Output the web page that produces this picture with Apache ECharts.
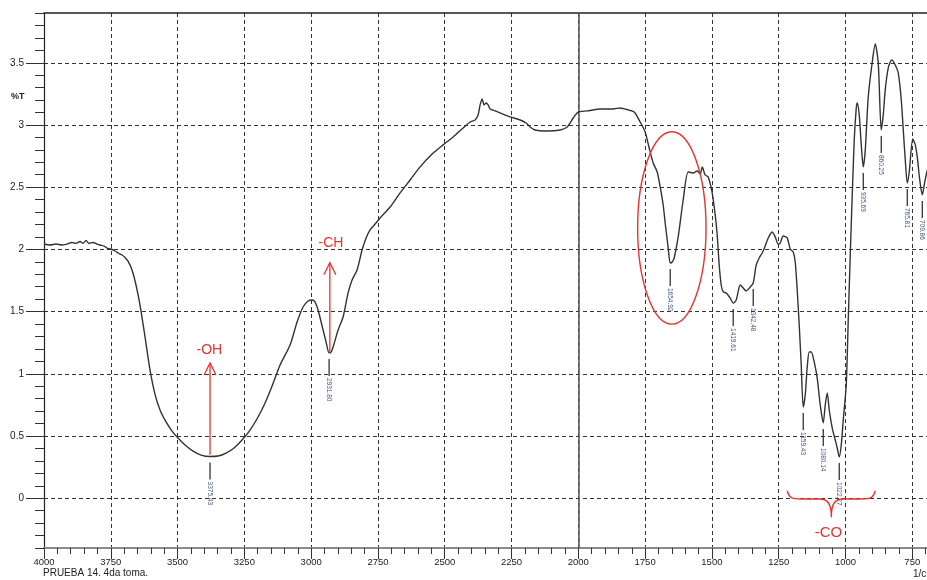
<!DOCTYPE html>
<html>
<head>
<meta charset="utf-8">
<script src="https://cdn.jsdelivr.net/npm/echarts@6/dist/echarts.min.js"></script>
<style>
html,body{margin:0;padding:0;background:#fff;}
#chart{width:927px;height:580px;}
</style>
</head>
<body>
<div id="chart"></div>
<script>
// ---- spectrum data (wavenumber in 1/cm, %T) ----
const wavenumber = [4000, 3977.5, 3955.1, 3932.6, 3913.9, 3895.2, 3880.2, 3865.2, 3854.0, 3842.7, 3831.5, 3816.5, 3801.6, 3790.3, 3775.3, 3764.1, 3749.1, 3734.2, 3722.9, 3707.9, 3696.7, 3685.5, 3670.5, 3655.6, 3640.6, 3621.8, 3603.1, 3584.4, 3565.7, 3543.2, 3520.8, 3498.3, 3472.1, 3442.1, 3412.2, 3378.5, 3348.5, 3318.6, 3288.6, 3258.7, 3228.7, 3198.7, 3172.5, 3146.3, 3116.4, 3078.9, 3052.7, 3030.3, 3011.5, 2996.6, 2985.3, 2974.1, 2955.4, 2944.2, 2932.9, 2925.4, 2917.9, 2899.2, 2880.5, 2861.8, 2846.8, 2828.1, 2809.4, 2794.4, 2779.4, 2760.7, 2742.0, 2704.5, 2667.1, 2629.6, 2592.2, 2551.0, 2506.1, 2468.6, 2431.2, 2405.0, 2386.3, 2375.1, 2367.6, 2360.1, 2352.6, 2345.1, 2337.6, 2330.1, 2311.4, 2292.7, 2255.2, 2217.8, 2195.3, 2180.3, 2161.6, 2116.7, 2068.0, 2041.8, 2019.3, 2000.6, 1966.9, 1918.2, 1869.5, 1843.3, 1813.4, 1790.9, 1768.5, 1749.8, 1734.8, 1719.8, 1704.8, 1693.6, 1682.4, 1674.9, 1663.6, 1656.1, 1648.7, 1641.2, 1626.2, 1607.5, 1588.8, 1570.0, 1555.0, 1543.8, 1536.3, 1525.1, 1513.9, 1498.9, 1487.7, 1480.2, 1472.7, 1465.2, 1457.7, 1446.5, 1431.5, 1420.3, 1409.0, 1394.1, 1382.8, 1371.6, 1356.6, 1345.4, 1334.1, 1322.9, 1311.7, 1300.5, 1289.2, 1274.2, 1263.0, 1251.8, 1244.3, 1233.1, 1218.1, 1206.9, 1195.6, 1188.2, 1180.7, 1173.2, 1165.7, 1158.2, 1150.7, 1143.2, 1135.7, 1128.2, 1117.0, 1105.8, 1094.5, 1083.3, 1075.8, 1068.3, 1060.8, 1049.6, 1038.4, 1030.9, 1023.4, 1015.9, 1008.4, 997.2, 989.7, 982.2, 974.7, 967.2, 959.7, 956.0, 948.5, 941.0, 933.5, 926.0, 914.8, 899.8, 888.6, 877.4, 866.2, 858.7, 851.2, 839.9, 826.8, 813.7, 802.5, 791.2, 783.7, 776.2, 768.8, 761.3, 748.2, 738.8, 731.4, 722.0, 712.6, 703.3, 693.9];
const transmittance = [2.043, 2.035, 2.043, 2.035, 2.043, 2.056, 2.048, 2.064, 2.048, 2.072, 2.048, 2.056, 2.043, 2.035, 2.027, 2.011, 2.003, 1.987, 1.971, 1.955, 1.935, 1.905, 1.835, 1.714, 1.553, 1.296, 1.030, 0.835, 0.709, 0.613, 0.540, 0.484, 0.428, 0.379, 0.347, 0.335, 0.339, 0.363, 0.404, 0.468, 0.548, 0.653, 0.765, 0.902, 1.071, 1.232, 1.416, 1.537, 1.585, 1.593, 1.577, 1.513, 1.352, 1.256, 1.168, 1.175, 1.215, 1.352, 1.457, 1.650, 1.754, 1.835, 1.995, 2.092, 2.156, 2.204, 2.253, 2.341, 2.454, 2.558, 2.663, 2.759, 2.840, 2.904, 2.976, 3.024, 3.040, 3.080, 3.161, 3.209, 3.161, 3.177, 3.161, 3.129, 3.113, 3.097, 3.065, 3.040, 3.016, 2.984, 2.960, 2.952, 2.960, 2.984, 3.056, 3.104, 3.113, 3.129, 3.129, 3.137, 3.121, 3.104, 3.024, 2.944, 2.815, 2.695, 2.622, 2.502, 2.357, 2.212, 2.011, 1.891, 1.899, 1.931, 2.100, 2.397, 2.622, 2.614, 2.630, 2.606, 2.662, 2.598, 2.582, 2.454, 2.277, 2.116, 1.875, 1.714, 1.658, 1.650, 1.609, 1.569, 1.593, 1.714, 1.690, 1.666, 1.698, 1.730, 1.875, 1.931, 1.971, 2.027, 2.092, 2.140, 2.100, 2.043, 2.051, 2.108, 2.092, 2.003, 1.979, 1.899, 1.674, 1.393, 1.071, 0.733, 0.830, 1.055, 1.175, 1.175, 1.094, 0.966, 0.749, 0.605, 0.749, 0.846, 0.709, 0.564, 0.468, 0.404, 0.331, 0.428, 0.629, 0.911, 1.433, 1.955, 2.438, 2.880, 3.137, 3.177, 3.080, 2.840, 2.663, 2.799, 3.225, 3.506, 3.651, 3.498, 2.960, 3.080, 3.282, 3.459, 3.523, 3.482, 3.418, 3.201, 2.960, 2.719, 2.534, 2.622, 2.888, 2.840, 2.743, 2.558, 2.438, 2.542, 2.639];

// ---- peak picks ----
const peakX = [3378.5, 2932.9, 1656.1, 1420.3, 1345.4, 1158.2, 1083.3, 1023.4, 933.5, 866.2, 768.8, 712.6];
const peakY = [0.335, 1.168, 1.891, 1.569, 1.730, 0.733, 0.605, 0.331, 2.663, 2.960, 2.534, 2.438];
const peakLabels = ['3375.43', '2931.80', '1654.92', '1419.61', '1342.48', '1159.43', '1080.14', '1022.27', '935.69', '860.25', '765.81', '709.86'];

// ---- axis ticks ----
const xTickLabels = ['4000', '3750', '3500', '3250', '3000', '2750', '2500', '2250', '2000', '1750', '1500', '1250', '1000', '750'];
const yTickLabels = ['0', '0.5', '1', '1.5', '2', '2.5', '3', '3.5'];

// ---- red annotations ----
const arrowX = [3378.5, 2930];
const arrowFrom = [0.35, 1.17];
const arrowTo = [1.087, 1.893];
const groupLabels = ['-OH', '-CH', '-CO'];
const groupLabelX = [3381, 2926, 1064];
const groupLabelY = [1.19, 2.054, -0.28];
const ellipseCenter = [1650, 2.172];
const ellipseRadius = [128, 0.773];
const braceX = [1218, 888.6, 1053];      // left end, right end, tip
const braceY = [0.06, -0.006, -0.152];   // end, flat, tip

const RED = '#e8332f';
const FONT = 'Liberation Sans, Arial, sans-serif';

const chart = echarts.init(document.getElementById('chart'), null, {renderer: 'canvas'});

const spectrum = wavenumber.map((w, i) => [w, transmittance[i]]);
const peaks = peakX.map((w, i) => [w, peakY[i]]);
const arrows = arrowX.map((w, i) => [w, arrowFrom[i], arrowTo[i]]);
const groups = groupLabelX.map((w, i) => [w, groupLabelY[i]]);

const dashed = {show: true, lineStyle: {color: '#333', width: 1, type: [4, 3]}};

const option = {
  animation: false,
  backgroundColor: '#fff',
  grid: [
    {left: 44, right: -12, top: 13, bottom: 32, outerBoundsMode: 'none', containLabel: false},
    {left: 44, right: 14.72, top: 13, bottom: 32, outerBoundsMode: 'none', containLabel: false},
    {left: 44, right: -12, top: 62.77, bottom: 81.77, outerBoundsMode: 'none', containLabel: false}
  ],
  xAxis: [
    {gridIndex: 0, type: 'value', inverse: true, min: 650, max: 4000, interval: 50,
      axisLine: {show: true, onZero: false, lineStyle: {color: '#8a8a8a', width: 2}},
      axisTick: {show: true, inside: false, length: 6, lineStyle: {color: '#333', width: 1}},
      axisLabel: {show: false}, splitLine: {show: false}},
    {gridIndex: 0, type: 'value', position: 'top', inverse: true, min: 650, max: 4000, interval: 50,
      axisLine: {show: true, onZero: false, lineStyle: {color: '#222', width: 1.5}},
      axisTick: {show: false}, axisLabel: {show: false}, splitLine: {show: false}},
    {gridIndex: 1, type: 'value', inverse: true, min: 750, max: 4000, interval: 250,
      axisLine: {show: false, onZero: false},
      axisTick: {show: true, inside: false, length: 11, lineStyle: {color: '#333', width: 1}},
      axisLabel: {show: true, margin: 9, color: '#222', fontSize: 9.5, fontFamily: FONT,
        formatter: (v) => xTickLabels[Math.round((4000 - v) / 250)]},
      splitLine: dashed},
    {gridIndex: 2, type: 'value', inverse: true, min: 650, max: 4000, show: false}
  ],
  yAxis: [
    {gridIndex: 0, type: 'value', min: -0.4, max: 3.9, interval: 0.1,
      axisLine: {show: true, onZero: false, lineStyle: {color: '#222', width: 1.2}},
      axisTick: {show: true, inside: false, length: 9, lineStyle: {color: '#333', width: 1}},
      axisLabel: {show: false}, splitLine: {show: false}},
    {gridIndex: 1, type: 'value', min: 0, max: 1, show: false},
    {gridIndex: 2, type: 'value', min: 0, max: 3.5, interval: 0.5,
      axisLine: {show: false, onZero: false},
      axisTick: {show: true, inside: false, length: 18, lineStyle: {color: '#333', width: 1}},
      axisLabel: {show: true, margin: 20, color: '#222', fontSize: 10, fontFamily: FONT,
        formatter: (v) => yTickLabels[Math.round(v / 0.5)]},
      splitLine: dashed}
  ],
  graphic: [
    {type: 'text', left: 11, top: 92, style: {text: '%T', fontSize: 9, fontWeight: 'bold', fill: '#222', fontFamily: FONT}},
    {type: 'text', left: 43, top: 568, style: {text: 'PRUEBA 14. 4da toma.', fontSize: 10, fill: '#222', fontFamily: FONT}},
    {type: 'text', left: 913, top: 569, style: {text: '1/cm', fontSize: 10, fill: '#222', fontFamily: FONT}}
  ],
  series: [
    {
      type: 'line', xAxisIndex: 0, yAxisIndex: 0, data: spectrum,
      showSymbol: false, smooth: 0.25, clip: true, z: 5,
      lineStyle: {color: '#333', width: 1.4},
      markLine: {silent: true, symbol: 'none', label: {show: false},
        lineStyle: {type: 'solid', color: '#5a5a5a', width: 1.6},
        data: [{xAxis: 2000}]}
    },
    {
      type: 'custom', xAxisIndex: 0, yAxisIndex: 0, data: peaks, z: 6, silent: true,
      renderItem: (params, api) => {
        const p = api.coord([api.value(0), api.value(1)]);
        return {type: 'group', children: [
          {type: 'line', shape: {x1: p[0], y1: p[1] + 6, x2: p[0], y2: p[1] + 23},
            style: {stroke: '#222', lineWidth: 1.2}},
          {type: 'text', x: p[0], y: p[1] + 25, rotation: -Math.PI / 2,
            style: {text: peakLabels[params.dataIndex], x: 0, y: 0, align: 'left', verticalAlign: 'middle',
              fontSize: 6.5, fontFamily: FONT, fill: '#3f5880'}}
        ]};
      }
    },
    {
      type: 'custom', xAxisIndex: 0, yAxisIndex: 0, data: arrows, z: 7, silent: true,
      renderItem: (params, api) => {
        const a = api.coord([api.value(0), api.value(1)]);
        const b = api.coord([api.value(0), api.value(2)]);
        return {type: 'group', children: [
          {type: 'line', shape: {x1: a[0], y1: a[1], x2: b[0], y2: b[1]}, style: {stroke: RED, lineWidth: 1.3}},
          {type: 'polyline', shape: {points: [[b[0] - 6, b[1] + 12], [b[0], b[1]], [b[0] + 6, b[1] + 12]]},
            style: {stroke: RED, lineWidth: 1.3, fill: null}}
        ]};
      }
    },
    {
      type: 'custom', xAxisIndex: 0, yAxisIndex: 0, data: groups, z: 7, silent: true,
      renderItem: (params, api) => {
        const p = api.coord([api.value(0), api.value(1)]);
        return {type: 'text', x: p[0], y: p[1],
          style: {text: groupLabels[params.dataIndex], x: 0, y: 0, align: 'center', verticalAlign: 'middle',
            fontSize: params.dataIndex === 2 ? 15 : 14, fontFamily: FONT, fill: RED}};
      }
    },
    {
      type: 'custom', xAxisIndex: 0, yAxisIndex: 0, data: [[ellipseCenter[0], ellipseCenter[1]]], z: 7, silent: true,
      renderItem: (params, api) => {
        const c = api.coord([ellipseCenter[0], ellipseCenter[1]]);
        const e = api.coord([ellipseCenter[0] - ellipseRadius[0], ellipseCenter[1] + ellipseRadius[1]]);
        return {type: 'ellipse', shape: {cx: c[0], cy: c[1], rx: Math.abs(e[0] - c[0]), ry: Math.abs(c[1] - e[1])},
          style: {stroke: RED, lineWidth: 1.4, fill: null}};
      }
    },
    {
      type: 'custom', xAxisIndex: 0, yAxisIndex: 0, data: [[braceX[2], braceY[2]]], z: 7, silent: true,
      renderItem: (params, api) => {
        const L = api.coord([braceX[0], braceY[0]]);
        const R = api.coord([braceX[1], braceY[0]]);
        const T = api.coord([braceX[2], braceY[2]]);
        const F = api.coord([braceX[2], braceY[1]])[1];
        const tx = T[0], ty = T[1];
        const path = 'M' + L[0] + ',' + L[1] +
          ' C' + (L[0] + 2) + ',' + F + ' ' + (L[0] + 6) + ',' + F + ' ' + (L[0] + 14) + ',' + F +
          ' L' + (tx - 12) + ',' + F +
          ' C' + (tx - 4) + ',' + F + ' ' + tx + ',' + (F + 4) + ' ' + tx + ',' + ty +
          ' C' + tx + ',' + (F + 4) + ' ' + (tx + 4) + ',' + F + ' ' + (tx + 12) + ',' + F +
          ' L' + (R[0] - 14) + ',' + F +
          ' C' + (R[0] - 6) + ',' + F + ' ' + (R[0] - 2) + ',' + F + ' ' + R[0] + ',' + R[1];
        return {type: 'path', shape: {pathData: path}, style: {stroke: RED, lineWidth: 1.4, fill: null}};
      }
    }
  ]
};

chart.setOption(option);
</script>
</body>
</html>
